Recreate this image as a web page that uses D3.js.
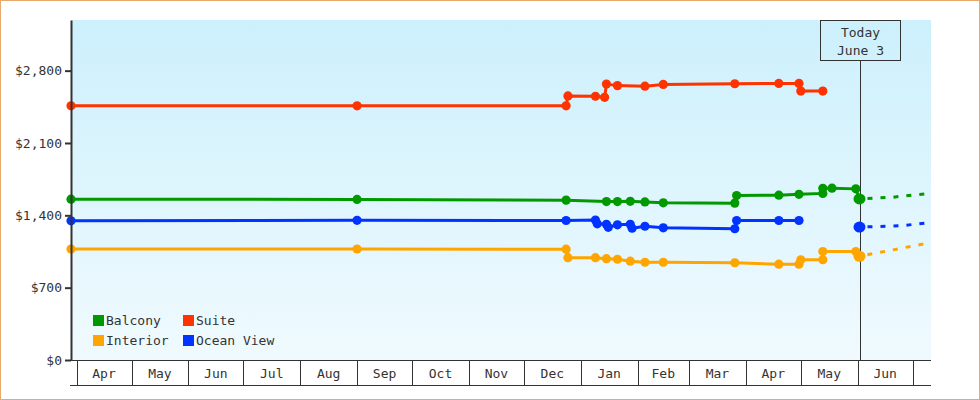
<!DOCTYPE html>
<html>
<head>
<meta charset="utf-8">
<script src="https://cdn.jsdelivr.net/npm/d3@7"></script>
<style>
  body { margin: 0; background: #fff; }
  svg text { font-family: "DejaVu Sans Mono", "Liberation Mono", monospace; font-size: 13px; fill: #333; }
</style>
</head>
<body>
<script>
// Cabin categories
var seriesNames = ["Balcony", "Suite", "Interior", "Ocean View"];
var seriesColors = ["#009a00", "#ff3300", "#ffa500", "#0033ff"];

// Price history: [date, price]
var balcony = [["2022-03-29", 1556], ["2022-09-01", 1554], ["2022-12-24", 1547], ["2023-01-15", 1533],
    ["2023-01-21", 1533], ["2023-01-28", 1535], ["2023-02-05", 1530], ["2023-02-15", 1521],
    ["2023-03-26", 1518], ["2023-03-27", 1591], ["2023-04-19", 1595], ["2023-04-30", 1603],
    ["2023-05-13", 1612], ["2023-05-13", 1661], ["2023-05-18", 1663], ["2023-05-31", 1656],
    ["2023-06-02", 1559]];
var suite = [["2022-03-29", 2460], ["2022-09-01", 2460], ["2022-12-24", 2460], ["2022-12-25", 2555],
    ["2023-01-09", 2552], ["2023-01-14", 2542], ["2023-01-15", 2670], ["2023-01-21", 2655],
    ["2023-02-05", 2650], ["2023-02-15", 2667], ["2023-03-26", 2673], ["2023-04-19", 2676],
    ["2023-04-30", 2676], ["2023-05-01", 2602], ["2023-05-13", 2602]];
var interior = [["2022-03-29", 1074], ["2022-09-01", 1074], ["2022-12-24", 1072], ["2022-12-25", 990],
    ["2023-01-09", 990], ["2023-01-15", 980], ["2023-01-21", 975], ["2023-01-28", 956],
    ["2023-02-05", 946], ["2023-02-15", 946], ["2023-03-26", 941], ["2023-04-19", 927],
    ["2023-04-30", 927], ["2023-05-01", 970], ["2023-05-13", 970], ["2023-05-13", 1050],
    ["2023-05-31", 1050], ["2023-06-02", 1004]];
var oceanView = [["2022-03-29", 1347], ["2022-09-01", 1352], ["2022-12-24", 1350], ["2023-01-09", 1354],
    ["2023-01-10", 1318], ["2023-01-15", 1313], ["2023-01-16", 1284], ["2023-01-21", 1308],
    ["2023-01-28", 1313], ["2023-01-29", 1275], ["2023-02-05", 1294], ["2023-02-15", 1279],
    ["2023-03-26", 1270], ["2023-03-27", 1350], ["2023-04-19", 1350], ["2023-04-30", 1350]];

// Today's prices (null = none) and the projected trend
var todayLabel = ["Today", "June 3"];
var todayDate = "2023-06-03";
var todayPriceDate = "2023-06-02";
var todayPrices = [1559, null, 1004, 1286];
var balconyForecast = [["2023-06-02", 1559], ["2023-06-20", 1575], ["2023-07-11", 1614]];
var interiorForecast = [["2023-06-02", 1004], ["2023-06-20", 1065], ["2023-07-11", 1137]];
var oceanForecast = [["2023-06-02", 1286], ["2023-06-25", 1300], ["2023-07-11", 1330]];

var dateDomain = ["2022-03-29", "2023-07-11"];
var priceMax = 3290;
var yTicks = [0, 700, 1400, 2100, 2800];

var histories = [balcony, suite, interior, oceanView];
var forecasts = [balconyForecast, null, interiorForecast, oceanForecast];

// Dimensions
var W = 980, H = 400;
var margin = { top: 20, right: 49, bottom: 40, left: 71 },
    width = W - margin.left - margin.right,
    height = H - margin.top - margin.bottom;

var parseDate = d3.timeParse("%Y-%m-%d");

var x = d3.scaleTime().domain(dateDomain.map(parseDate)).range([0, width]);
var y = d3.scaleLinear().domain([0, priceMax]).range([height, 0]);

var line = d3.line()
    .x(function (d) { return x(parseDate(d[0])); })
    .y(function (d) { return y(d[1]); });

var root = d3.select("body").append("svg")
    .attr("width", W)
    .attr("height", H);

var defs = root.append("defs");
var grad = defs.append("linearGradient")
    .attr("id", "bg").attr("x1", 0).attr("y1", 0).attr("x2", 0).attr("y2", 1);
grad.append("stop").attr("offset", "0%").attr("stop-color", "#ccf0fc");
grad.append("stop").attr("offset", "100%").attr("stop-color", "#f0fafe");

// outer frame
root.append("rect")
    .attr("x", 0.5).attr("y", 0.5)
    .attr("width", W - 1).attr("height", H - 1)
    .attr("fill", "#fff")
    .attr("stroke", "#e8aa6a");

var svg = root.append("g")
    .attr("transform", "translate(" + margin.left + "," + margin.top + ")");

// plot background
svg.append("rect")
    .attr("width", width).attr("height", height)
    .attr("fill", "url(#bg)");

// Today marker
var tx = Math.round(x(parseDate(todayDate))) - 0.5;
svg.append("line")
    .attr("x1", tx).attr("x2", tx)
    .attr("y1", 40).attr("y2", height)
    .attr("stroke", "#333").attr("stroke-width", 1);
svg.append("rect")
    .attr("x", tx - 40).attr("y", 0.5)
    .attr("width", 80).attr("height", 40)
    .attr("fill", "none")
    .attr("stroke", "#333");
svg.selectAll(".todayText")
    .data(todayLabel)
    .enter().append("text")
    .attr("class", "todayText")
    .attr("x", tx)
    .attr("y", function (d, i) { return 17 + i * 18; })
    .attr("text-anchor", "middle")
    .text(function (d) { return d; });

// Forecast dashed lines
svg.selectAll(".forecast")
    .data(forecasts.map(function (f, i) { return { f: f, i: i }; }).filter(function (d) { return d.f; }))
    .enter().append("path")
    .attr("class", "forecast")
    .attr("d", function (d) { return line(d.f); })
    .attr("fill", "none")
    .attr("stroke", function (d) { return seriesColors[d.i]; })
    .attr("stroke-width", 3)
    .attr("stroke-dasharray", "5,8")
    .attr("stroke-dashoffset", -8);

// History lines
svg.selectAll(".history")
    .data(histories)
    .enter().append("path")
    .attr("class", "history")
    .attr("d", function (d) { return line(d); })
    .attr("fill", "none")
    .attr("stroke", function (d, i) { return seriesColors[i]; })
    .attr("stroke-width", 3);

// Points
histories.forEach(function (h, i) {
    svg.selectAll(".pt" + i)
        .data(h)
        .enter().append("circle")
        .attr("class", "pt" + i)
        .attr("cx", function (d) { return x(parseDate(d[0])); })
        .attr("cy", function (d) { return y(d[1]); })
        .attr("r", 4.6)
        .attr("fill", seriesColors[i]);
});

// Today's prices
svg.selectAll(".todayPt")
    .data(todayPrices.map(function (p, i) { return { p: p, i: i }; }).filter(function (d) { return d.p != null; }))
    .enter().append("ellipse")
    .attr("class", "todayPt")
    .attr("cx", x(parseDate(todayPriceDate)))
    .attr("cy", function (d) { return y(d.p); })
    .attr("rx", 6).attr("ry", 5.5)
    .attr("fill", function (d) { return seriesColors[d.i]; });

// Y axis
var yAxis = d3.axisLeft(y)
    .tickValues(yTicks)
    .tickSize(6)
    .tickSizeOuter(0)
    .tickPadding(3)
    .tickFormat(function (d) { return "$" + d3.format(",")(d); });

var yg = svg.append("g").attr("class", "y axis").call(yAxis);
yg.select(".domain").attr("stroke", "#333").attr("stroke-width", 2);
yg.selectAll(".tick line").attr("stroke", "#333").attr("stroke-width", 2);
yg.selectAll("text").attr("font-family", null).attr("font-size", null).attr("fill", "#333");

// X axis: month bands
var months = d3.timeMonth.range(d3.timeMonth.ceil(x.domain()[0]), x.domain()[1]);
var xg = svg.append("g").attr("class", "x axis")
    .attr("transform", "translate(0," + height + ")");

xg.append("line")
    .attr("x1", 0).attr("x2", width)
    .attr("y1", 0.5).attr("y2", 0.5)
    .attr("stroke", "#333");
xg.append("line")
    .attr("x1", -1).attr("x2", width)
    .attr("y1", 25.5).attr("y2", 25.5)
    .attr("stroke", "#333");

xg.selectAll(".sep")
    .data(months)
    .enter().append("line")
    .attr("class", "sep")
    .attr("x1", function (d) { return Math.round(x(d)) + 0.5; })
    .attr("x2", function (d) { return Math.round(x(d)) + 0.5; })
    .attr("y1", 0).attr("y2", 25)
    .attr("stroke", "#333");

var fullMonths = months.filter(function (d) { return d3.timeMonth.offset(d, 1) <= x.domain()[1]; });
xg.selectAll(".mlabel")
    .data(fullMonths)
    .enter().append("text")
    .attr("class", "mlabel")
    .attr("x", function (d) { return (x(d) + x(d3.timeMonth.offset(d, 1))) / 2; })
    .attr("y", 18)
    .attr("text-anchor", "middle")
    .text(d3.timeFormat("%b"));

// Legend
var legend = svg.append("g").attr("transform", "translate(22,295)");
var items = legend.selectAll(".item")
    .data(seriesNames)
    .enter().append("g")
    .attr("class", "item")
    .attr("transform", function (d, i) {
        return "translate(" + ((i % 2) * 90) + "," + (Math.floor(i / 2) * 20) + ")";
    });
items.append("rect")
    .attr("width", 11).attr("height", 11)
    .attr("fill", function (d, i) { return seriesColors[i]; });
items.append("text")
    .attr("x", 13)
    .attr("y", 10)
    .text(function (d) { return d; });
</script>
</body>
</html>
